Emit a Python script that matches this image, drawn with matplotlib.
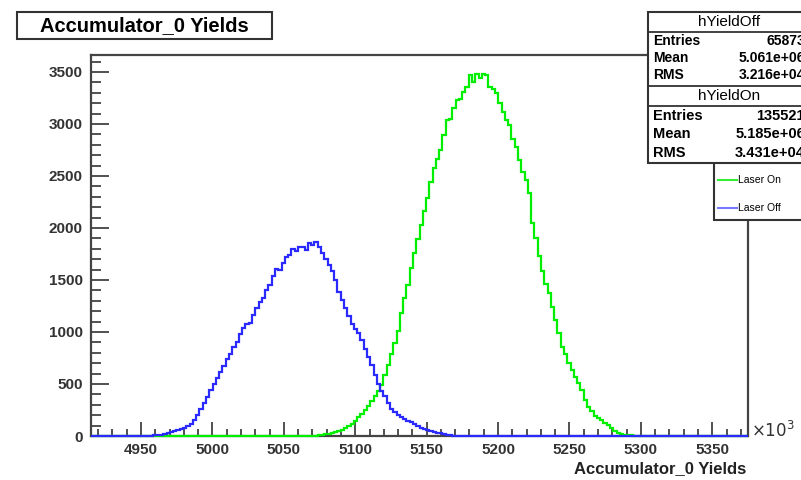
import numpy as np
import matplotlib
matplotlib.use("Agg")
import matplotlib.pyplot as plt
from matplotlib.patches import Rectangle
from matplotlib.lines import Line2D

plt.rcParams['font.family'] = ['Liberation Sans', 'DejaVu Sans']

W, H = 801, 480

# histogram binning (units of 10^3)
x_lo = 4915.0
x_hi = 5375.0
bin_w = 2.3
n_bins = 200

# Laser Off (blue) counts, starting at bin 16
off_first = 16
laser_off = [2, 3, 4, 5, 7, 12, 18, 26, 34, 44, 55, 67, 80, 96, 118, 150, 205, 262, 318, 372,
             440, 502, 560, 615, 670, 740, 790, 860, 905, 980, 1040, 1075, 1090, 1160, 1230,
             1290, 1330, 1400, 1450, 1540, 1610, 1600, 1660, 1720, 1740, 1800, 1780, 1820,
             1815, 1790, 1855, 1838, 1868, 1820, 1760, 1700, 1640, 1590, 1500, 1380, 1310,
             1230, 1150, 1080, 1030, 990, 920, 840, 760, 680, 590, 500, 430, 380, 320, 262,
             230, 200, 180, 160, 148, 130, 112, 95, 80, 68, 56, 46, 38, 31, 25, 18, 12, 7, 4,
             2, 1]

# Laser On (green) counts, starting at bin 69
on_first = 69
laser_on = [5, 10, 16, 24, 33, 41, 50, 58, 75, 96, 115, 148, 178, 210, 252, 290, 335, 382,
            428, 490, 590, 682, 790, 898, 1010, 1180, 1330, 1450, 1615, 1760, 1890, 2030,
            2160, 2290, 2440, 2575, 2660, 2750, 2890, 3040, 3050, 3150, 3230, 3240, 3310,
            3360, 3475, 3400, 3480, 3445, 3480, 3475, 3360, 3340, 3300, 3200, 3115, 3040,
            2990, 2860, 2780, 2654, 2540, 2460, 2337, 2048, 1900, 1730, 1590, 1460, 1375,
            1240, 1120, 990, 856, 790, 700, 635, 570, 505, 442, 350, 279, 240, 190, 170, 150,
            128, 110, 80, 48, 32, 18, 12, 8, 5, 3, 2, 1]

stats_off = [("Entries", "65873"), ("Mean", "5.061e+06"), ("RMS", "3.216e+04")]
stats_on = [("Entries", "135521"), ("Mean", "5.185e+06"), ("RMS", "3.431e+04")]


def full(first, vals):
    h = np.zeros(n_bins)
    h[first:first + len(vals)] = vals
    return h


def px(x, y):
    return x / W, 1 - y / H


edges = x_lo + bin_w * np.arange(n_bins + 1)

fig = plt.figure(figsize=(W / 100, H / 100), dpi=100)
fig.patch.set_facecolor('white')
l, b = px(91, 436)
r, t = px(748, 55)
ax = fig.add_axes([l, b, r - l, t - b])

ax.stairs(full(on_first, laser_on), edges, baseline=None, color='#00ee00', lw=1.6,
          zorder=3, clip_on=False)
ax.stairs(full(off_first, laser_off), edges, baseline=None, color='#2a2aff', lw=1.6,
          zorder=4, clip_on=False)

ax.set_xlim(x_lo, x_hi)
ax.set_ylim(0, 3663)
ax.set_xticks(np.arange(4950, 5351, 50))
ax.set_xticks(np.arange(4920, 5375, 10), minor=True)
ax.set_yticks(np.arange(0, 3501, 500))
ax.set_yticks(np.arange(0, 3663, 100), minor=True)
ax.tick_params(axis='both', which='both', direction='in', colors='#333333',
               labelsize=11, width=1.2)
ax.tick_params(axis='y', which='major', length=13, pad=6)
ax.tick_params(axis='y', which='minor', length=7)
ax.tick_params(axis='x', which='major', length=10, pad=5)
ax.tick_params(axis='x', which='minor', length=5)
for lab in ax.get_xticklabels() + ax.get_yticklabels():
    lab.set_fontweight('bold')
for s in ax.spines.values():
    s.set_color('#444444')
    s.set_linewidth(1.6)

ax.set_xlabel("Accumulator_0 Yields", fontsize=12, fontweight='bold', color='#222222')
ax.xaxis.set_label_coords(0.997, -0.066)
ax.xaxis.label.set_ha('right')

fig.text(*px(751, 430), r'$\times10^{3}$', fontsize=12, color='#333333', va='center', ha='left')


def box(x0, y0, x1, y1, lw=1.5):
    xa, ya = px(x0, y1)
    xb, yb = px(x1, y0)
    rect = Rectangle((xa, ya), xb - xa, yb - ya, transform=fig.transFigure,
                     facecolor='white', edgecolor='#333333', lw=lw, zorder=5)
    fig.add_artist(rect)


def hline(x0, x1, y, lw=1.3):
    fig.add_artist(Line2D([x0 / W, x1 / W], [1 - y / H] * 2, transform=fig.transFigure,
                          color='#333333', lw=lw, zorder=6))


# title box
box(17, 12, 272, 39)
fig.text(*px(144, 25.5), "Accumulator_0 Yields", fontsize=14.5, fontweight='bold',
         ha='center', va='center', zorder=7)

# legend box
box(714, 160, 815, 220)
for yy, col, name in [(180, '#33ee33', "Laser On"), (208, '#7777ff', "Laser Off")]:
    fig.add_artist(Line2D([718 / W, 737 / W], [1 - yy / H] * 2, transform=fig.transFigure,
                          color=col, lw=1.5, zorder=7))
    fig.text(*px(738, yy), name, fontsize=7.5, ha='left', va='center', zorder=7)

# stats box
box(648, 12, 815, 163)
hline(648, 815, 32)
hline(648, 815, 86)
hline(648, 815, 106)
fig.text(*px(729, 21.5), "hYieldOff", fontsize=11, ha='center', va='center', zorder=7)
fig.text(*px(729, 96), "hYieldOn", fontsize=11, ha='center', va='center', zorder=7)
for rows, ys, fs in [(stats_off, [41, 58, 75], 10), (stats_on, [116, 134, 153], 10.5)]:
    for (k, v), yy in zip(rows, ys):
        fig.text(*px(653, yy), k, fontsize=fs, fontweight='bold', ha='left', va='center', zorder=7)
        fig.text(*px(805, yy), v, fontsize=fs, fontweight='bold', ha='right', va='center', zorder=7)

fig.savefig("out.png", dpi=100)
